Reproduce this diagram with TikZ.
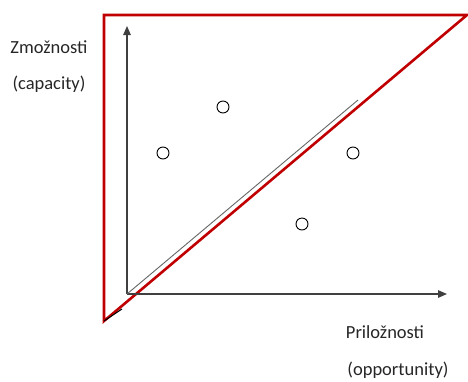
\documentclass[tikz,border=0pt]{standalone}
\usepackage{fontspec}
\setmainfont{Carlito}
\usetikzlibrary{arrows.meta,positioning}
\definecolor{framered}{HTML}{C00000}
\definecolor{axisgray}{HTML}{404040}
\tikzset{
  redline/.style={
    draw=framered,
    line width=2.6pt,
    line join=miter
  },
  axis/.style={
    -{Triangle[length=9pt,width=7.5pt]},
    draw=axisgray,
    line width=1.3pt
  },
  point/.style={
    circle,
    draw=black,
    fill=white,
    line width=0.9pt,
    minimum size=12pt,
    inner sep=0pt
  },
  label/.style={
    font=\fontsize{18.5}{22}\selectfont,
    text=black!85,
    inner sep=0pt
  }
}

\begin{document}
\begin{tikzpicture}[x=1pt,y=-1pt]
\useasboundingbox (0,0) rectangle (468,381);
% frame
\coordinate (corner) at (104,321);
\coordinate (topleft) at (104,15);
\coordinate (topright) at (467,15);
\draw[redline] (corner) -- (topleft) -- (topright) -- cycle;
\draw[line width=1pt, black] (corner) -- (122,309);
% axes
\coordinate (origin) at (127,294);
\coordinate (ytip) at (127,26);
\coordinate (xtip) at (447,294);
\draw[axis] (origin) -- (ytip);
\draw[axis] (origin) -- (xtip);
\coordinate (diagend) at (358,100);
\draw[axisgray!80, line width=0.9pt] (origin) -- (diagend);
% points
\node[point] (p1) at (163,153) {};
\node[point] (p2) at (223,107) {};
\node[point] (p3) at (353,153) {};
\node[point] (p4) at (302,224) {};
% labels
\node[label] (capa) at (49,47) {Zmožnosti};
\node[label] (capb) at (49,84) {(capacity)};
\node[label] (oppa) at (385,332) {Priložnosti};
\node[label] (oppb) at (398,370) {(opportunity)};
\end{tikzpicture}
\end{document}
